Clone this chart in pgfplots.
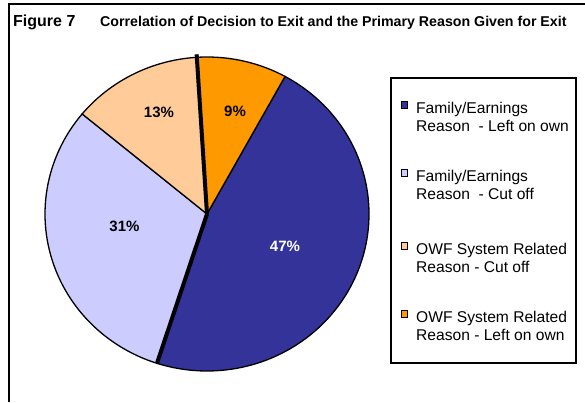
\documentclass[border=0pt]{standalone}
\usepackage{pgfplots}
\pgfplotsset{compat=1.18}
\usepackage{pgfplotstable}
\usepackage{fontspec}
\setmainfont{Liberation Sans}
\definecolor{cA}{HTML}{333399}
\definecolor{cB}{HTML}{CCCCFF}
\definecolor{cC}{HTML}{FFCC99}
\definecolor{cD}{HTML}{FF9900}
\pgfplotstableread{
label value
A 47
B 31
C 13
D 9
}\piedata
\newcommand\legentry[4]{%
  \draw[fill=#2,line width=1pt] (axis cs:401,402-#1+5) rectangle (axis cs:407.5,402-#1+11.5);
  \node[anchor=base west,inner sep=0pt,font=\fontsize{15.6}{18}\selectfont] at (axis cs:416,402-#1) {#3};
  \node[anchor=base west,inner sep=0pt,font=\fontsize{15.6}{18}\selectfont] at (axis cs:416,402-#1-18.4) {#4};
}
\begin{document}
\begin{tikzpicture}
\useasboundingbox (0,0) rectangle (585pt,402pt);
\pgfplotstablegetelem{0}{value}\of\piedata \let\vA\pgfplotsretval
\pgfplotstablegetelem{1}{value}\of\piedata \let\vB\pgfplotsretval
\pgfplotstablegetelem{2}{value}\of\piedata \let\vC\pgfplotsretval
\pgfplotstablegetelem{3}{value}\of\piedata \let\vD\pgfplotsretval
\pgfmathsetmacro{\aZero}{61.2}
\pgfmathsetmacro{\aA}{\aZero-3.6*\vA}
\pgfmathsetmacro{\aB}{\aA-3.6*\vB}
\pgfmathsetmacro{\aC}{\aB-3.6*\vC}
\pgfmathsetmacro{\aD}{\aC-3.6*\vD}
\def\cx{207}\def\cy{188}\def\rx{162}\def\ry{157}
\pgfmathsetmacro{\xL}{\cx+\rx*cos(\aA)}
\pgfmathsetmacro{\yL}{\cy+\ry*sin(\aA)}
\pgfmathsetmacro{\xT}{\cx+(\rx+3)*cos(\aC)}
\pgfmathsetmacro{\yT}{\cy+(\ry+3)*sin(\aC)}
\begin{axis}[at={(0,0)},anchor=south west,width=585pt,height=402pt,scale only axis,
  xmin=0,xmax=585,ymin=0,ymax=402,hide axis,clip=false]
\addplot[fill=cA,draw=black,line width=1.3pt,domain=\aA:\aZero,samples=90,variable=\t]
  ({\cx+\rx*cos(\t)},{\cy+\ry*sin(\t)}) -- (axis cs:\cx,\cy) -- cycle;
\addplot[fill=cB,draw=black,line width=1.3pt,domain=\aB:\aA,samples=60,variable=\t]
  ({\cx+\rx*cos(\t)},{\cy+\ry*sin(\t)}) -- (axis cs:\cx,\cy) -- cycle;
\addplot[fill=cC,draw=black,line width=1.3pt,domain=\aC:\aB,samples=30,variable=\t]
  ({\cx+\rx*cos(\t)},{\cy+\ry*sin(\t)}) -- (axis cs:\cx,\cy) -- cycle;
\addplot[fill=cD,draw=black,line width=1.3pt,domain=\aD:\aC,samples=25,variable=\t]
  ({\cx+\rx*cos(\t)},{\cy+\ry*sin(\t)}) -- (axis cs:\cx,\cy) -- cycle;
\addplot[black,line width=4pt] coordinates {(\cx,\cy) (\xL,\yL)};
\addplot[black,line width=4pt] coordinates {(\cx,\cy) (\xT,\yT)};
% slice labels
\node[font=\fontsize{15}{18}\selectfont\bfseries,text=white] at (axis cs:285,156) {47\%};
\node[font=\fontsize{15}{18}\selectfont\bfseries] at (axis cs:124.5,176) {31\%};
\node[font=\fontsize{15}{18}\selectfont\bfseries] at (axis cs:159,290) {13\%};
\node[font=\fontsize{15}{18}\selectfont\bfseries] at (axis cs:235,291) {9\%};
% frame
\draw[line width=2pt] (axis cs:8.5,0) -- (axis cs:8.5,397.5) -- (axis cs:586,397.5);
% title
\node[anchor=base west,inner sep=0pt,font=\fontsize{16}{19}\selectfont\bfseries] at (axis cs:13,375.5) {Figure 7};
\node[anchor=base west,inner sep=0pt,font=\fontsize{14.2}{17}\selectfont\bfseries] at (axis cs:100,375.5) {Correlation of Decision to Exit and the Primary Reason Given for Exit};
% legend
\draw[line width=1.5pt] (axis cs:391,324) rectangle (axis cs:576,39);
\legentry{113.3}{cA}{Family/Earnings}{Reason\ \ - Left on own}
\legentry{181}{cB}{Family/Earnings}{Reason\ \ - Cut off}
\legentry{254}{cC}{OWF System Related}{Reason - Cut off}
\legentry{322.3}{cD}{OWF System Related}{Reason - Left on own}
\end{axis}
\end{tikzpicture}
\end{document}
